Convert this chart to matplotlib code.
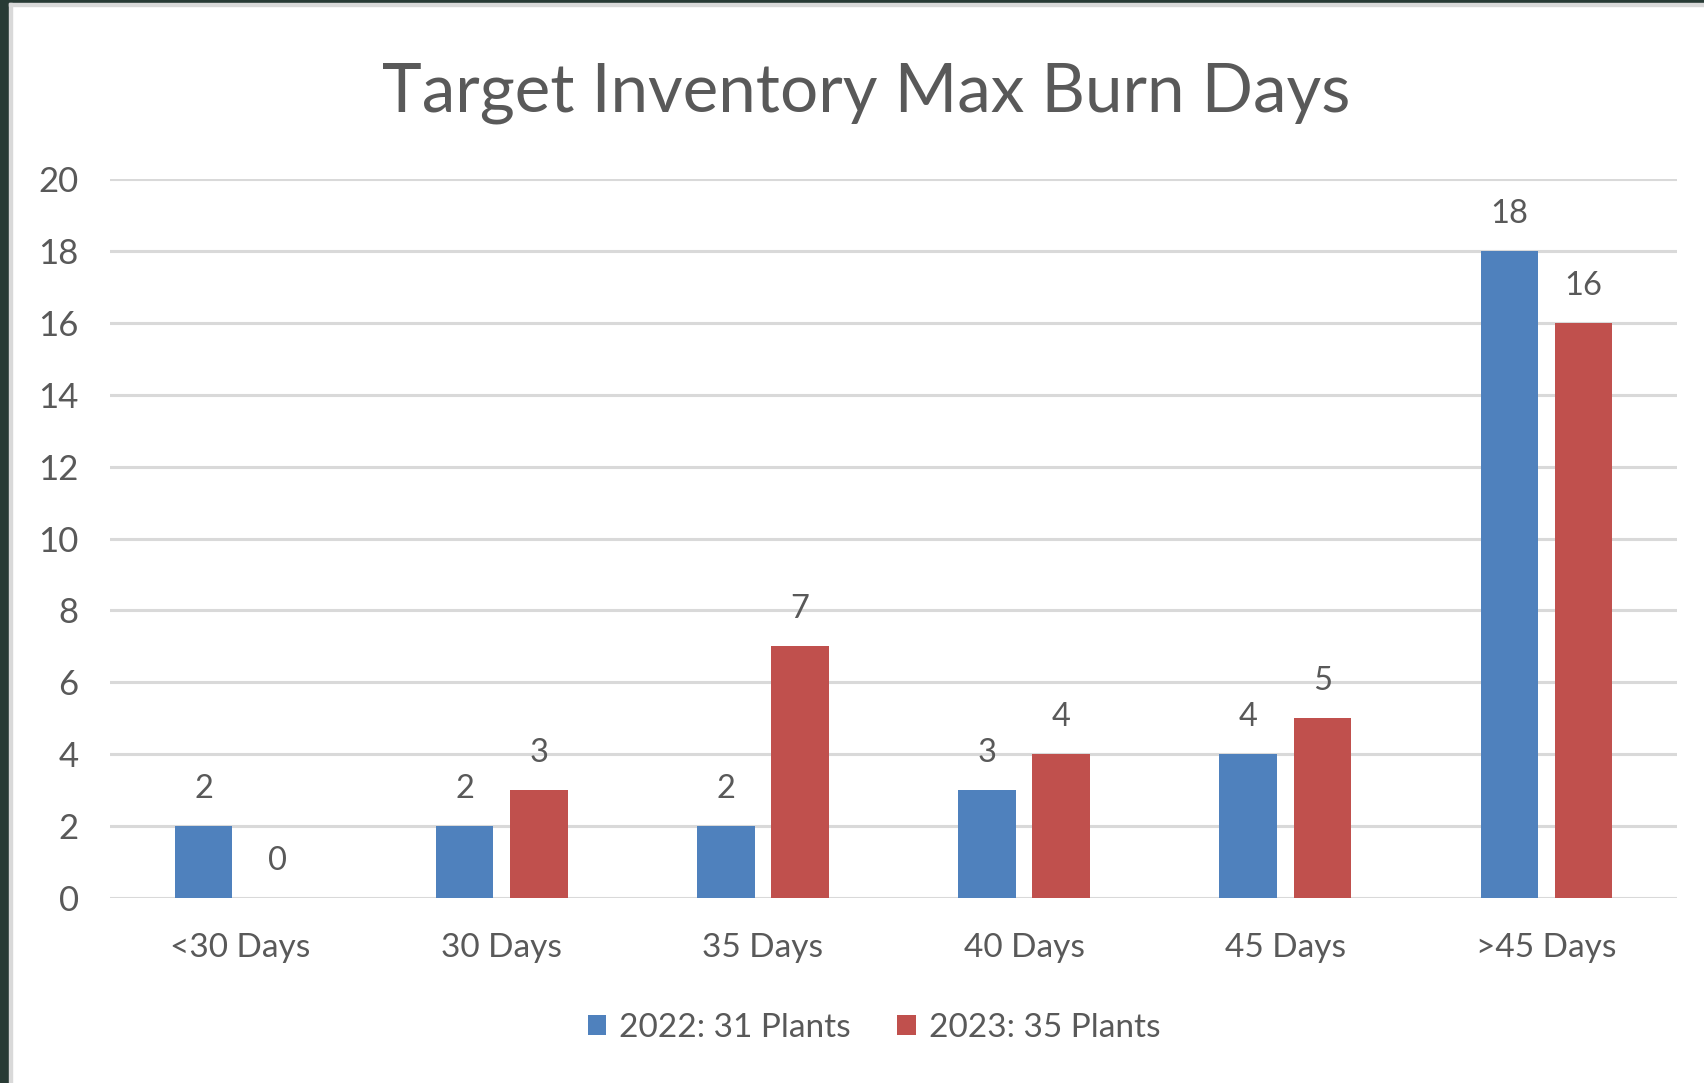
import numpy as np
import matplotlib.pyplot as plt
from matplotlib.patches import Patch, Rectangle

# chart data
categories = ['<30 Days', '30 Days', '35 Days', '40 Days', '45 Days', '>45 Days']
plants_2022 = [2, 2, 2, 3, 4, 18]
plants_2023 = [0, 3, 7, 4, 5, 16]
series_names = ['2022: 31 Plants', '2023: 35 Plants']
yticks = [0, 2, 4, 6, 8, 10, 12, 14, 16, 18, 20]

blue = '#4F81BD'
red = '#C0504D'
txt = '#595959'
grid = '#D9D9D9'

plt.rcParams['font.family'] = ['Lato', 'DejaVu Sans']

fig = plt.figure(figsize=(17.04, 10.83), dpi=100)
fig.patch.set_facecolor('white')

# dark frame of the screenshot plus light chart border
fig.patches.append(Rectangle((0, 0), 9/1704, 1, transform=fig.transFigure,
                             color='#283B35', zorder=0))
fig.patches.append(Rectangle((0, 1 - 3/1083), 1, 3/1083, transform=fig.transFigure,
                             color='#283B35', zorder=0))
fig.patches.append(Rectangle((9/1704, 0), 3/1704, 1 - 3/1083, transform=fig.transFigure,
                             color=grid, zorder=0))
fig.patches.append(Rectangle((9/1704, 1 - 6/1083), 1, 3/1083, transform=fig.transFigure,
                             color=grid, zorder=0))

ax = fig.add_axes([110/1704, 185/1083, 1567/1704, 719/1083])

x = np.arange(len(categories))
w = 0.22
off = 0.142
b1 = ax.bar(x - off, plants_2022, w, color=blue, zorder=3)
b2 = ax.bar(x + off, plants_2023, w, color=red, zorder=3)
ax.bar_label(b1, padding=16, fontsize=23.5, color=txt)
ax.bar_label(b2, padding=16, fontsize=23.5, color=txt)

ax.set_xlim(-0.5, len(categories) - 0.5)
ax.set_ylim(0, 20)
ax.set_yticks(yticks)
ax.set_xticks(x)
ax.set_xticklabels(categories)
ax.tick_params(axis='y', length=0, pad=22.5, labelsize=25, labelcolor=txt)
ax.tick_params(axis='x', length=0, pad=25, labelsize=24, labelcolor=txt)
ax.grid(axis='y', color=grid, linewidth=2.2, zorder=0)
for s in ax.spines.values():
    s.set_visible(False)

fig.text(866/1704, 1 - 112/1083, 'Target Inventory Max Burn Days',
         ha='center', va='baseline', fontsize=48.5, color=txt)

handles = [Patch(facecolor=blue), Patch(facecolor=red)]
fig.legend(handles, series_names, loc='center', bbox_to_anchor=(874/1704, 1 - 1028/1083),
           ncol=2, frameon=False, fontsize=24, labelcolor=txt,
           handlelength=0.55, handleheight=0.55, handletextpad=0.39,
           columnspacing=1.4)

fig.savefig('out.png', dpi=100)
